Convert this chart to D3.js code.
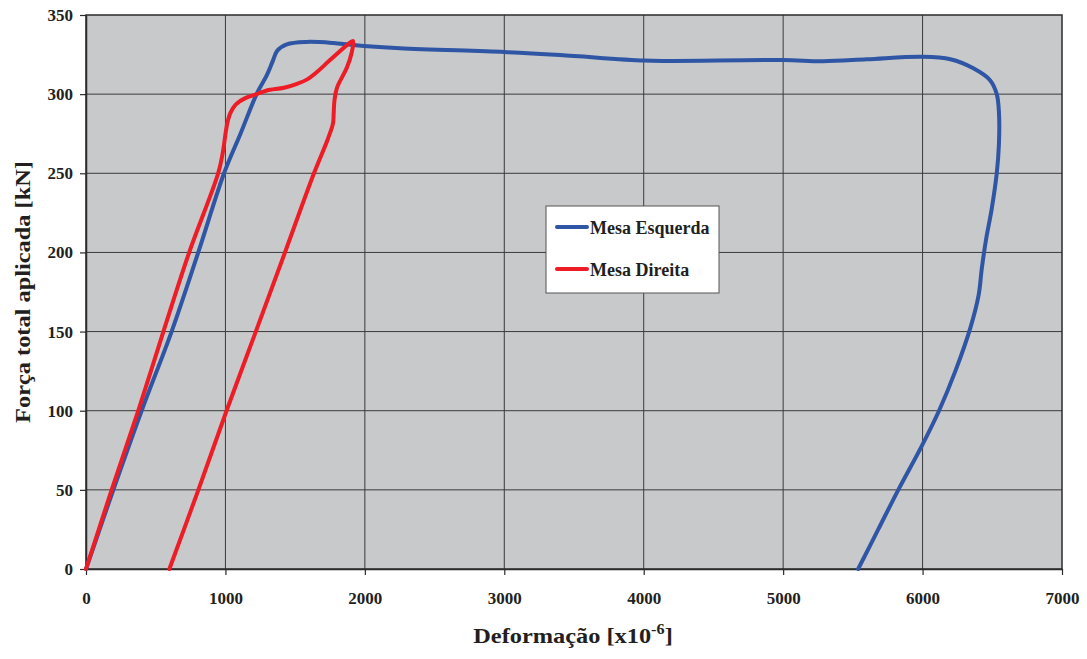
<!DOCTYPE html>
<html>
<head>
<meta charset="utf-8">
<script src="https://cdn.jsdelivr.net/npm/d3@7"></script>
<style>
  html, body { margin: 0; padding: 0; background: #fff; }
  svg { display: block; }
  text { font-family: "Liberation Serif", "Times New Roman", serif; font-weight: bold; fill: #231f20; }
</style>
</head>
<body>
<svg id="chart" width="1087" height="659"></svg>
<script>
// ---- data ----
const xTicks = [0, 1000, 2000, 3000, 4000, 5000, 6000, 7000];
const yTicks = [0, 50, 100, 150, 200, 250, 300, 350];
const seriesNames = ["Mesa Esquerda", "Mesa Direita"];

// Mesa Esquerda: deformação [x10^-6], força [kN]
const esquerdaX = [0, 196, 399, 614, 805, 990, 1108, 1226, 1297, 1340, 1372, 1440, 1582, 1775, 1915, 2252, 3000, 3400, 4000, 4200, 5000, 5286, 5600, 6000, 6200, 6364, 6484, 6532, 6548, 6548, 6532, 6495, 6455, 6425, 6402, 6345, 6235, 6118, 5990, 5826, 5682, 5538];
const esquerdaY = [0, 50, 100, 150, 200, 250, 275, 300.5, 312, 321, 327.5, 331.5, 333, 332.3, 331, 329, 326.6, 324.7, 321.2, 321, 321.5, 320.8, 322, 323.6, 322, 316.3, 308.8, 300, 288, 269, 250, 227, 208, 190, 173, 153, 125, 100, 77, 50, 25, 0];

// Mesa Direita
const direitaX = [0, 184, 375, 555, 740, 948, 980, 1012, 1035, 1075, 1150, 1226, 1297, 1420, 1513, 1590, 1650, 1750, 1872, 1915, 1905, 1872, 1800, 1782, 1776, 1772, 1736, 1635, 1427, 1218, 1008, 806, 598];
const direitaY = [0, 50, 100, 150, 200, 250, 262.6, 281, 288, 293.5, 297.8, 300, 302.3, 304, 306.5, 309.5, 313.5, 321.5, 331, 333.6, 326, 317, 304, 296, 287, 281.7, 272, 250, 200, 150, 100, 50, 0];

const colors = ["#2f55a5", "#ee1c25"];

// ---- layout ----
const svg = d3.select("#chart");
const pLeft = 86, pRight = 1062, pTop = 15, pBottom = 569;

const x = d3.scaleLinear().domain([0, 7000]).range([pLeft, pRight]);
const y = d3.scaleLinear().domain([0, 350]).range([pBottom, pTop]);

// plot background
svg.append("rect")
  .attr("x", pLeft).attr("y", pTop)
  .attr("width", pRight - pLeft).attr("height", pBottom - pTop)
  .attr("fill", "#c8c9cb");

// grid
const grid = svg.append("g");
grid.selectAll(".gx").data(xTicks.slice(1, -1)).enter().append("line")
  .attr("x1", d => x(d)).attr("x2", d => x(d))
  .attr("y1", pTop).attr("y2", pBottom)
  .attr("stroke", "#3a3a3a").attr("stroke-width", 1);
grid.selectAll(".gy").data(yTicks.slice(1, -1)).enter().append("line")
  .attr("y1", d => y(d)).attr("y2", d => y(d))
  .attr("x1", pLeft).attr("x2", pRight)
  .attr("stroke", "#3a3a3a").attr("stroke-width", 1);

// plot border
svg.append("rect")
  .attr("x", pLeft).attr("y", pTop)
  .attr("width", pRight - pLeft).attr("height", pBottom - pTop)
  .attr("fill", "none").attr("stroke", "#2b2b2b").attr("stroke-width", 1.5);

// axes
const fmt = d3.format("d");
const yAxis = svg.append("g").attr("transform", `translate(${pLeft},0)`)
  .call(d3.axisLeft(y).tickValues(yTicks).tickFormat(fmt).tickSize(6).tickSizeOuter(0).tickPadding(7));
const xAxis = svg.append("g").attr("transform", `translate(0,${pBottom})`)
  .call(d3.axisBottom(x).tickValues(xTicks).tickFormat(fmt).tickSize(6).tickSizeOuter(0).tickPadding(17));
[yAxis, xAxis].forEach(a => {
  a.attr("font-family", null).attr("font-size", null);
  a.select(".domain").attr("stroke", "#2b2b2b").attr("stroke-width", 1.5);
  a.selectAll(".tick line").attr("stroke", "#2b2b2b").attr("stroke-width", 1.2);
  a.selectAll(".tick text")
    .style("font-family", "'Liberation Serif', 'Times New Roman', serif")
    .style("font-weight", "bold")
    .style("font-size", "17px")
    .attr("fill", "#231f20");
});

// lines
const line = d3.line()
  .x(d => x(d[0])).y(d => y(d[1]))
  .curve(d3.curveCatmullRom.alpha(0.5));

const series = [
  d3.zip(esquerdaX, esquerdaY),
  d3.zip(direitaX, direitaY)
];
series.forEach((s, i) => {
  svg.append("path")
    .datum(s)
    .attr("d", line)
    .attr("fill", "none")
    .attr("stroke", colors[i])
    .attr("stroke-width", 4)
    .attr("stroke-linejoin", "round")
    .attr("stroke-linecap", "round");
});

// legend
const lg = svg.append("g");
lg.append("rect")
  .attr("x", 546).attr("y", 206).attr("width", 173).attr("height", 87)
  .attr("fill", "#fff").attr("stroke", "#555").attr("stroke-width", 1);
seriesNames.forEach((name, i) => {
  const cy = 227 + i * 42;
  lg.append("line")
    .attr("x1", 557).attr("x2", 587).attr("y1", cy).attr("y2", cy)
    .attr("stroke", colors[i]).attr("stroke-width", 4).attr("stroke-linecap", "round");
  lg.append("text")
    .attr("x", 590).attr("y", cy + 7)
    .style("font-size", "18px")
    .text(name);
});

// axis titles
const xt = svg.append("g").attr("transform", "translate(573,643)");
const xtText = xt.append("text")
  .attr("text-anchor", "middle")
  .style("font-size", "21px")
  .attr("transform", "scale(1.16,1)");
xtText.append("tspan").text("Deformação [x10");
xtText.append("tspan").style("font-size", "14px").attr("dy", -9).text("-6");
xtText.append("tspan").attr("dy", 9).text("]");

const yt = svg.append("g").attr("transform", "translate(30,292) rotate(-90)");
yt.append("text")
  .attr("text-anchor", "middle")
  .style("font-size", "21px")
  .attr("transform", "scale(1.16,1)")
  .text("Força total aplicada [kN]");
</script>
</body>
</html>
